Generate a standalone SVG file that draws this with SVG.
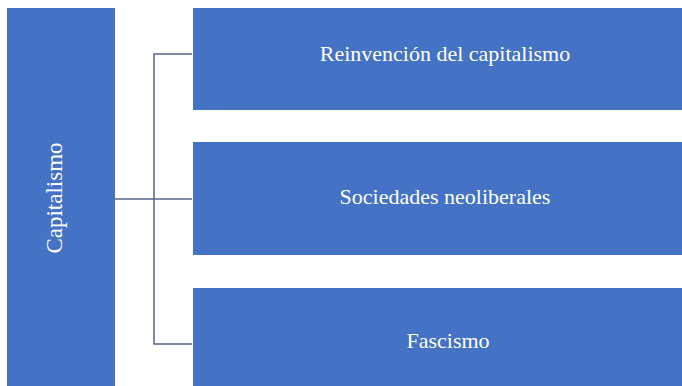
<svg xmlns="http://www.w3.org/2000/svg" width="682" height="386" viewBox="0 0 682 386">
<style>
.box{fill:#4472C4;}
.lbl{font-family:"Liberation Serif","Times New Roman",serif;font-size:22px;fill:#FFFFFF;text-anchor:middle;}
.conn{fill:none;stroke:#56638F;stroke-width:1.5;}
</style>
<rect x="0" y="0" width="682" height="386" fill="#FFFFFF"/>
<g id="capitalismo">
<rect class="box" x="7" y="8" width="108" height="378"/>
<text class="lbl" transform="translate(62,198) rotate(-90)" x="0" y="0" style="font-size:23px">Capitalismo</text>
</g>
<g id="reinvencion">
<rect class="box" x="193" y="8" width="489" height="102"/>
<text class="lbl" x="445" y="61">Reinvención del capitalismo</text>
</g>
<g id="sociedades">
<rect class="box" x="193" y="142" width="489" height="113"/>
<text class="lbl" x="445" y="204">Sociedades neoliberales</text>
</g>
<g id="fascismo">
<rect class="box" x="193" y="288" width="489" height="98"/>
<text class="lbl" x="448" y="348">Fascismo</text>
</g>
<g id="connectors">
<path class="conn" d="M115,199 H192"/>
<path class="conn" d="M192,54 H154 V344 H192"/>
</g>
</svg>
